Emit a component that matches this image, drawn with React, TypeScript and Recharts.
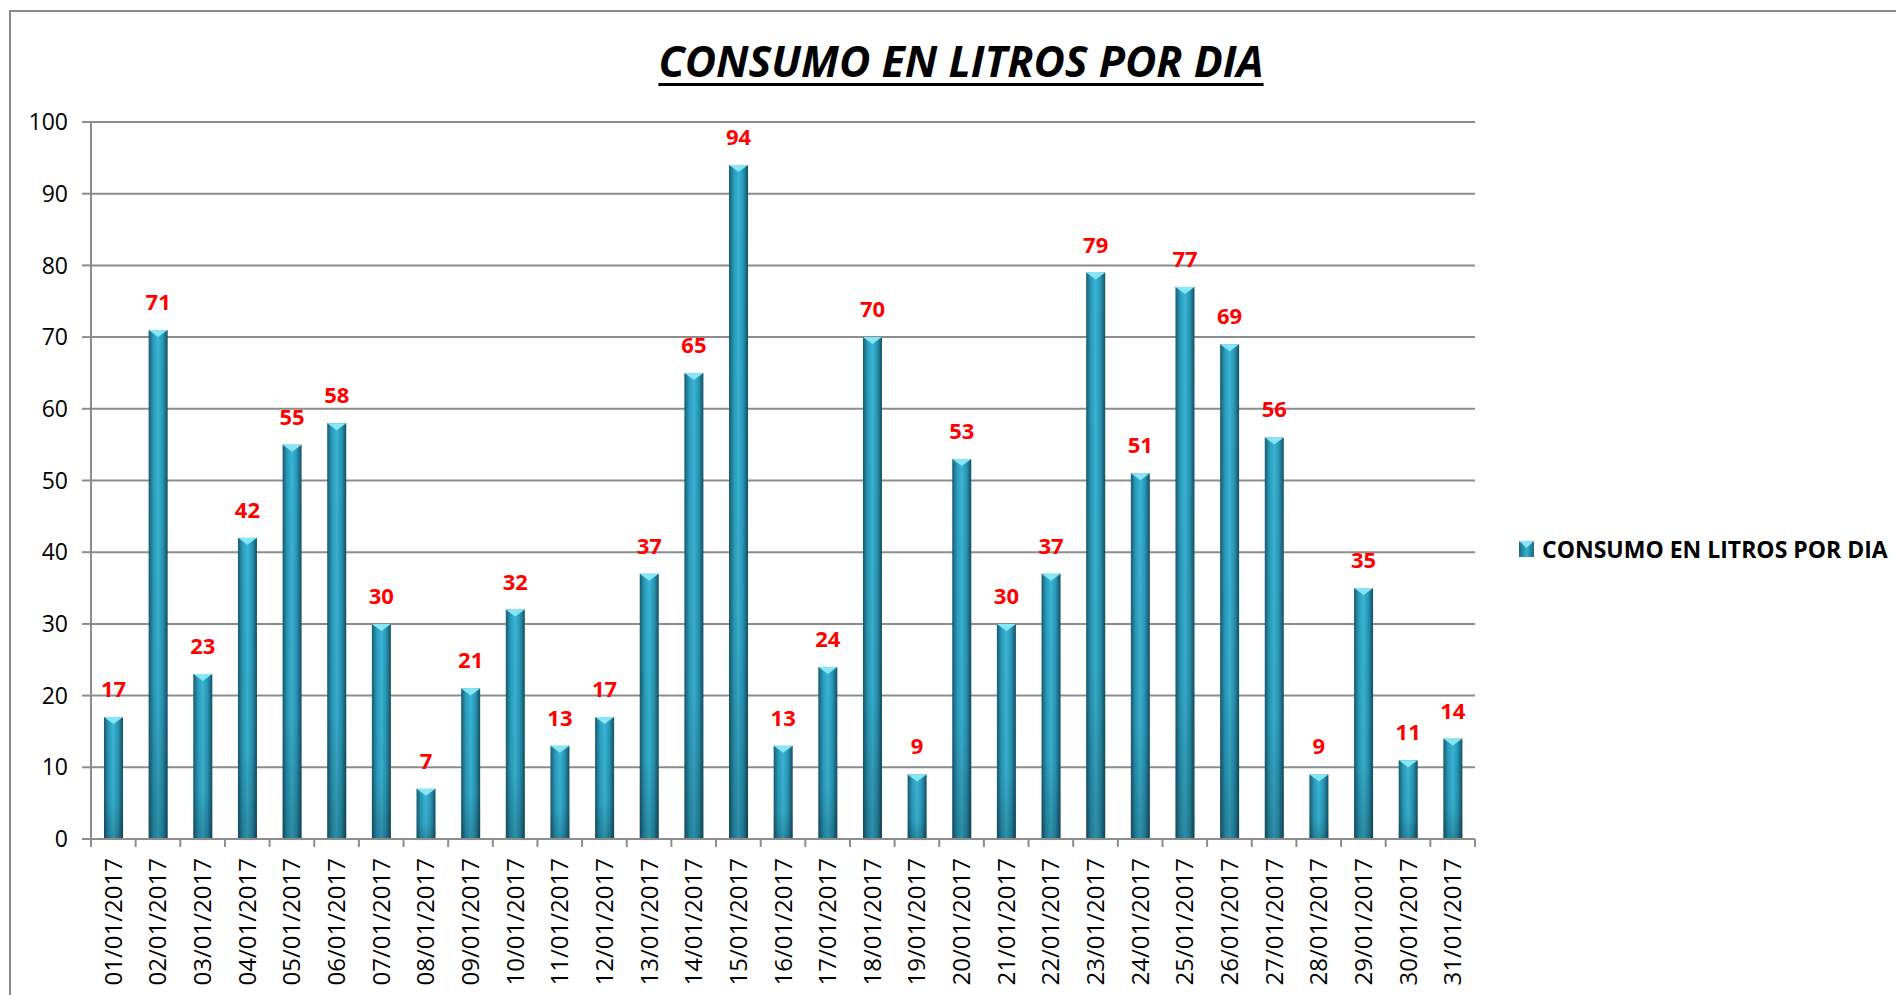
import React from "react";
import {
  BarChart,
  Bar,
  CartesianGrid,
  XAxis,
  YAxis,
  LabelList,
} from "recharts";

const fechas = [
  "01/01/2017", "02/01/2017", "03/01/2017", "04/01/2017", "05/01/2017",
  "06/01/2017", "07/01/2017", "08/01/2017", "09/01/2017", "10/01/2017",
  "11/01/2017", "12/01/2017", "13/01/2017", "14/01/2017", "15/01/2017",
  "16/01/2017", "17/01/2017", "18/01/2017", "19/01/2017", "20/01/2017",
  "21/01/2017", "22/01/2017", "23/01/2017", "24/01/2017", "25/01/2017",
  "26/01/2017", "27/01/2017", "28/01/2017", "29/01/2017", "30/01/2017",
  "31/01/2017",
];

const litros = [
  17, 71, 23, 42, 55, 58, 30, 7, 21, 32, 13, 17, 37, 65, 94, 13,
  24, 70, 9, 53, 30, 37, 79, 51, 77, 69, 56, 9, 35, 11, 14,
];

const yTicks = [0, 10, 20, 30, 40, 50, 60, 70, 80, 90, 100];

const SERIE = "CONSUMO EN LITROS POR DIA";

const data = fechas.map((fecha, i) => ({ fecha, consumo: litros[i] }));

// layout
const W = 1896;
const H = 995;
const PLOT_LEFT = 91;
const PLOT_RIGHT = 1475;
const PLOT_TOP = 122;
const PLOT_BOTTOM = 839;
const BAND = (PLOT_RIGHT - PLOT_LEFT) / fechas.length;
const FONT = "'Open Sans', sans-serif";
const GRID = "#8c8c8c";

// barra con degradado tipo cilindro y punta clara arriba
const BarShape = (props: any) => {
  const { x, y, width, height } = props;
  if (!height || height <= 0) return null;
  const tri = Math.min(7, height);
  return (
    <g>
      <rect x={x} y={y} width={width} height={height} fill="url(#gradBarra)" />
      <rect x={x} y={y} width={width} height={height} fill="url(#sombraBarra)" />
      <polygon
        points={`${x},${y} ${x + width},${y} ${x + width / 2},${y + tri}`}
        fill="#86e6f5"
      />
    </g>
  );
};

const XTick = (props: any) => {
  const { x, y, payload, index } = props;
  const left = x - BAND / 2;
  const right = x + BAND / 2;
  return (
    <g>
      <line x1={left} y1={y} x2={left} y2={y + 8} stroke={GRID} strokeWidth={2} />
      {index === fechas.length - 1 && (
        <line x1={right} y1={y} x2={right} y2={y + 8} stroke={GRID} strokeWidth={2} />
      )}
      <text
        transform={`translate(${x + 8.5},${y + 19}) rotate(-90)`}
        textAnchor="end"
        fontFamily={FONT}
        fontSize={24}
        fill="#000"
      >
        {payload.value}
      </text>
    </g>
  );
};

const ValorLabel = (props: any) => {
  const { x, y, width, value } = props;
  return (
    <text
      x={x + width / 2}
      y={y - 20}
      textAnchor="middle"
      fontFamily={FONT}
      fontWeight="bold"
      fontSize={22}
      fill="#ff0000"
    >
      {value}
    </text>
  );
};

const Leyenda = () => (
  <div
    style={{
      position: "absolute",
      left: 1519,
      top: 533,
      display: "flex",
      alignItems: "center",
      whiteSpace: "nowrap",
    }}
  >
    <svg width={15} height={16} style={{ marginRight: 8 }}>
      <defs>
        <linearGradient id="gradLeyenda" x1="0" y1="0" x2="1" y2="0">
          <stop offset="0%" stopColor="#1b6b80" />
          <stop offset="50%" stopColor="#36b0d2" />
          <stop offset="100%" stopColor="#1b6b80" />
        </linearGradient>
      </defs>
      <rect x={0} y={0} width={15} height={16} fill="url(#gradLeyenda)" />
      <polygon points="0,0 15,0 7.5,7" fill="#86e6f5" />
    </svg>
    <span
      style={{
        fontFamily: FONT,
        fontWeight: "bold",
        fontSize: 23,
        color: "#000",
      }}
    >
      {SERIE}
    </span>
  </div>
);

export default function App() {
  return (
    <div
      style={{
        position: "absolute",
        left: 0,
        top: 0,
        width: W,
        height: H,
        overflow: "hidden",
        background: "#fff",
      }}
    >
      <div
        style={{
          position: "absolute",
          left: 9,
          top: 10,
          width: 1950,
          height: 1050,
          border: "2px solid #8a8a8a",
        }}
      />
      <div
        style={{
          position: "absolute",
          left: 0,
          top: 40,
          width: 1922,
          textAlign: "center",
          fontFamily: FONT,
          fontWeight: "bold",
          fontStyle: "italic",
          fontSize: 43,
          lineHeight: "42px",
          textDecoration: "underline",
          textDecorationThickness: 3,
          textUnderlineOffset: 6,
        }}
      >
        {SERIE}
      </div>
      <div style={{ position: "absolute", left: 0, top: 0 }}>
        <BarChart
          width={W}
          height={H}
          data={data}
          margin={{ top: PLOT_TOP, right: W - PLOT_RIGHT, bottom: 6, left: 0 }}
        >
          <defs>
            <linearGradient id="gradBarra" x1="0" y1="0" x2="1" y2="0">
              <stop offset="0%" stopColor="#175b6e" />
              <stop offset="25%" stopColor="#2a9cbc" />
              <stop offset="50%" stopColor="#3ab4d5" />
              <stop offset="75%" stopColor="#2896b5" />
              <stop offset="100%" stopColor="#145062" />
            </linearGradient>
            <linearGradient id="sombraBarra" x1="0" y1="0" x2="0" y2="1">
              <stop offset="0%" stopColor="#000" stopOpacity={0} />
              <stop offset="70%" stopColor="#000" stopOpacity={0.05} />
              <stop offset="100%" stopColor="#000" stopOpacity={0.22} />
            </linearGradient>
          </defs>
          <CartesianGrid vertical={false} stroke={GRID} strokeWidth={2} />
          <XAxis
            dataKey="fecha"
            height={H - PLOT_BOTTOM - 6}
            interval={0}
            tickLine={false}
            tickSize={0}
            tickMargin={0}
            axisLine={{ stroke: GRID, strokeWidth: 2 }}
            tick={<XTick />}
          />
          <YAxis
            width={PLOT_LEFT}
            domain={[0, 100]}
            ticks={yTicks}
            interval={0}
            tickSize={9}
            tickMargin={14}
            tickLine={{ stroke: GRID, strokeWidth: 2 }}
            axisLine={{ stroke: GRID, strokeWidth: 2 }}
            tick={{ fill: "#000", fontSize: 23, fontFamily: FONT }}
          />
          <Bar
            dataKey="consumo"
            name={SERIE}
            barSize={19}
            shape={<BarShape />}
            isAnimationActive={false}
          >
            <LabelList dataKey="consumo" content={<ValorLabel />} />
          </Bar>
        </BarChart>
      </div>
      <Leyenda />
    </div>
  );
}
